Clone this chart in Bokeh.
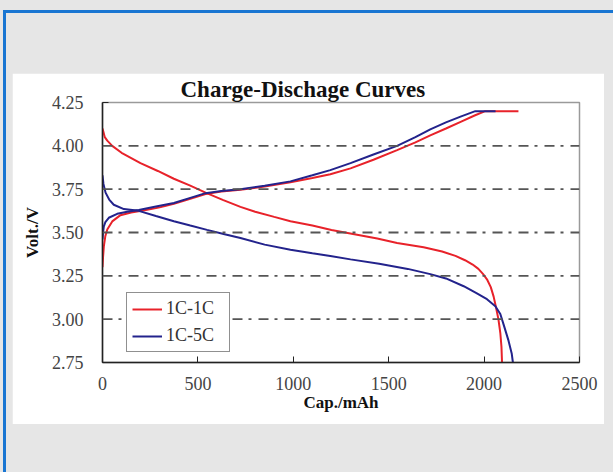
from bokeh.plotting import figure
from bokeh.models import (Range1d, FixedTicker, Legend, LegendItem, Span,
                          GlobalInlineStyleSheet, CustomJSTickFormatter)
from bokeh.embed import file_html
from bokeh.resources import INLINE

# ---- data ----
x_ticks = [0, 500, 1000, 1500, 2000, 2500]
y_ticks = [2.75, 3.00, 3.25, 3.50, 3.75, 4.00, 4.25]
grid_levels = [3.00, 3.25, 3.50, 3.75, 4.00]

c11_dis_cap = [0, 5, 12, 25, 51, 100, 199, 290, 374, 460, 540, 630, 723, 800, 900, 985,
               1100, 1200, 1320, 1440, 1544, 1683, 1780, 1850, 1900, 1940, 1970, 1995,
               2015, 2035, 2050, 2062, 2075, 2085, 2091, 2094]
c11_dis_v = [4.10, 4.08, 4.05, 4.03, 4.00, 3.96, 3.90, 3.855, 3.81, 3.77, 3.73, 3.688,
             3.648, 3.62, 3.59, 3.565, 3.54, 3.515, 3.49, 3.465, 3.44, 3.415, 3.39, 3.365,
             3.34, 3.315, 3.29, 3.26, 3.23, 3.185, 3.13, 3.07, 3.00, 2.92, 2.84, 2.75]

c15_dis_cap = [0, 5, 16, 35, 59, 112, 190, 280, 374, 460, 548, 640, 723, 850, 985,
               1100, 1194, 1300, 1450, 1600, 1718, 1800, 1893, 1960, 2015, 2059,
               2085, 2102, 2128, 2145, 2151]
c15_dis_v = [3.83, 3.78, 3.73, 3.69, 3.66, 3.635, 3.625, 3.595, 3.565, 3.54, 3.515,
             3.49, 3.468, 3.43, 3.40, 3.38, 3.365, 3.345, 3.32, 3.29, 3.26, 3.235,
             3.19, 3.15, 3.115, 3.075, 3.03, 2.97, 2.876, 2.80, 2.75]

c11_chg_cap = [0, 3, 7, 15, 25, 51, 94, 150, 220, 300, 374, 460, 540, 623, 723, 850,
               985, 1100, 1194, 1300, 1420, 1544, 1640, 1718, 1800, 1880, 1950, 2006,
               2180]
c11_chg_v = [3.30, 3.36, 3.42, 3.48, 3.517, 3.564, 3.60, 3.615, 3.628, 3.645, 3.665,
             3.695, 3.722, 3.737, 3.747, 3.765, 3.79, 3.815, 3.836, 3.87, 3.92, 3.975,
             4.02, 4.06, 4.10, 4.14, 4.175, 4.20, 4.20]

c15_chg_cap = [0, 3, 7, 15, 33, 77, 130, 190, 280, 374, 460, 540, 623, 723, 850, 985,
               1100, 1194, 1300, 1420, 1544, 1640, 1718, 1800, 1880, 1954, 2060]
c15_chg_v = [3.46, 3.50, 3.535, 3.56, 3.585, 3.608, 3.62, 3.63, 3.65, 3.67, 3.70,
             3.727, 3.74, 3.75, 3.77, 3.795, 3.83, 3.86, 3.90, 3.95, 4.00, 4.05,
             4.095, 4.135, 4.17, 4.20, 4.20]

series_names = ["1C-1C", "1C-5C"]
RED = "#e8222a"
BLUE = "#23238c"
SERIF = "Liberation Serif"

page_css = GlobalInlineStyleSheet(css="""
html, body { background-color: #e6e6e6 !important; }
body::before { content: ''; position: fixed; left: 3px; top: 10px; right: -20px; bottom: -20px;
  border-top: 3px solid #1976d2; border-left: 3px solid #1976d2; pointer-events: none; z-index: 5; }
""")

p = figure(width=592, height=351, output_backend="svg", toolbar_location=None,
           x_range=Range1d(0, 2500), y_range=Range1d(2.75, 4.25),
           min_border_left=90, min_border_right=25, min_border_top=28,
           min_border_bottom=62)
p.margin = (73, 0, 0, 12)
p.stylesheets = [page_css]
p.background_fill_color = "white"
p.border_fill_color = "white"
p.outline_line_color = "#9a9a9a"
p.outline_line_width = 1.5
p.xgrid.visible = False
p.ygrid.visible = False

p.title.text = "Charge-Dischage Curves"
p.title.text_font = SERIF
p.title.text_font_size = "23px"
p.title.text_font_style = "bold"
p.title.text_color = "#111111"
p.title.align = "left"
p.title.offset = 78
p.title.standoff = 2

for lv in grid_levels:
    p.add_layout(Span(location=lv, dimension="width", line_color="#555555",
                      line_width=1.8, line_dash="10 6 3 7"))

for ax, ticks in ((p.xaxis[0], x_ticks), (p.yaxis[0], y_ticks)):
    ax.ticker = FixedTicker(ticks=ticks)
    ax.minor_tick_line_color = None
    ax.major_tick_in = 6
    ax.major_tick_out = 0
    ax.major_tick_line_color = "#222222"
    ax.axis_line_color = "#222222"
    ax.axis_line_width = 1.5
    ax.major_label_text_font = SERIF
    ax.major_label_text_font_size = "18px"
    ax.major_label_text_color = "#444444"
    ax.axis_label_text_font = SERIF
    ax.axis_label_text_font_size = "17px"
    ax.axis_label_text_font_style = "bold"
    ax.axis_label_text_color = "#111111"

p.yaxis[0].formatter = CustomJSTickFormatter(code="return tick.toFixed(2);")
p.xaxis[0].major_label_standoff = 14
p.yaxis[0].major_label_standoff = 19
p.xaxis[0].axis_label = "Cap./mAh"
p.yaxis[0].axis_label = "Volt./V"
p.xaxis[0].axis_label_standoff = 0
p.yaxis[0].axis_label_standoff = 7

r1 = p.line(c11_dis_cap, c11_dis_v, line_color=RED, line_width=2)
r2 = p.line(c11_chg_cap, c11_chg_v, line_color=RED, line_width=2)
r3 = p.line(c15_dis_cap, c15_dis_v, line_color=BLUE, line_width=2)
r4 = p.line(c15_chg_cap, c15_chg_v, line_color=BLUE, line_width=2)

legend = Legend(items=[LegendItem(label=series_names[0], renderers=[r1]),
                       LegendItem(label=series_names[1], renderers=[r3])],
                location=(24, 10))
legend.border_line_color = "#222222"
legend.border_line_width = 1.2
legend.background_fill_color = "white"
legend.background_fill_alpha = 1.0
legend.label_text_font = SERIF
legend.label_text_font_size = "18px"
legend.label_text_color = "#333333"
legend.glyph_width = 30
legend.glyph_height = 20
legend.label_height = 20
legend.label_width = 58
legend.label_standoff = 4
legend.spacing = 6
legend.padding = 5
legend.margin = 0
p.add_layout(legend, "center")

open("out.html", "w").write(file_html(p, INLINE))
